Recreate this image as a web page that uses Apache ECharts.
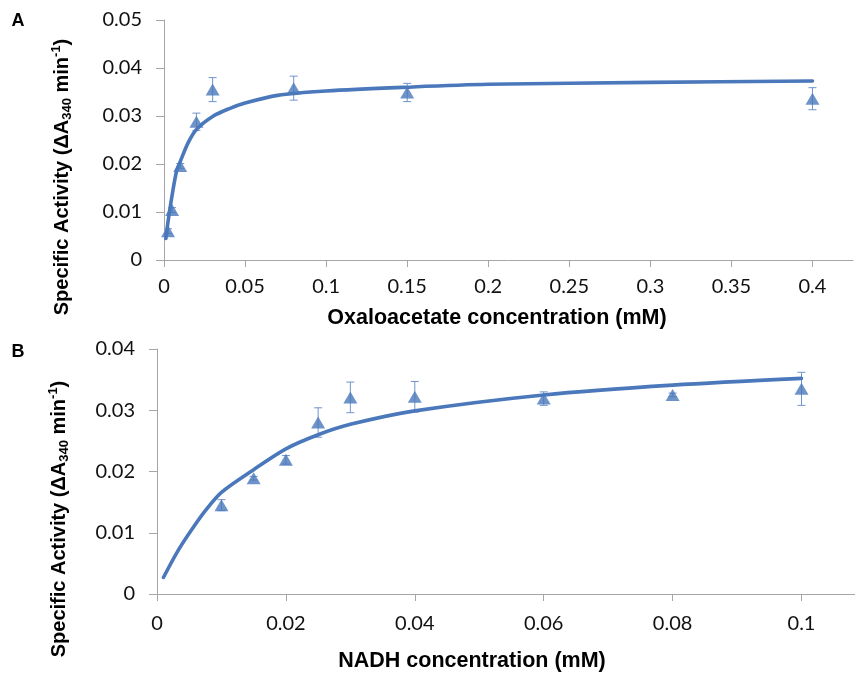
<!DOCTYPE html>
<html>
<head>
<meta charset="utf-8">
<style>
  html, body { margin: 0; padding: 0; background: #fff; }
  #chart { width: 855px; height: 676px; }
</style>
<script src="https://cdn.jsdelivr.net/npm/echarts@6/dist/echarts.min.js"></script>
</head>
<body>
<div id="chart"></div>
<script>
// Panel A: oxaloacetate
const oaaConc = [0.0025, 0.005, 0.01, 0.02, 0.03, 0.08, 0.15, 0.4]
const oaaActivity = [0.006, 0.0104, 0.0196, 0.0288, 0.0355, 0.0358, 0.0349, 0.0336]
const oaaSd = [0.0005, 0.0005, 0.0005, 0.0018, 0.0025, 0.0025, 0.0019, 0.0023]
// fitted curve
const oaaFitX = [0.0012, 0.0025, 0.005, 0.0078, 0.01, 0.015, 0.02, 0.03, 0.04, 0.05, 0.07, 0.1, 0.15, 0.2, 0.3, 0.4]
const oaaFitY = [0.0045, 0.008, 0.0135, 0.0186, 0.0205, 0.0245, 0.0272, 0.0299, 0.0315, 0.0327, 0.0343, 0.0352, 0.036, 0.0366, 0.037, 0.0373]

// Panel B: NADH
const nadhConc = [0.01, 0.015, 0.02, 0.025, 0.03, 0.04, 0.06, 0.08, 0.1]
const nadhActivity = [0.0145, 0.0189, 0.0219, 0.028, 0.0321, 0.0322, 0.0319, 0.0325, 0.0335]
const nadhSd = [0.0009, 0.0003, 0.0007, 0.0024, 0.0025, 0.0025, 0.0011, 0.0003, 0.0027]
const nadhFitX = [0.001, 0.003, 0.005, 0.0075, 0.01, 0.015, 0.02, 0.025, 0.03, 0.04, 0.06, 0.08, 0.1]
const nadhFitY = [0.0027, 0.0066, 0.0099, 0.0136, 0.0166, 0.0203, 0.0237, 0.026, 0.0277, 0.0299, 0.0325, 0.0341, 0.0352]

const blue = '#4a78bb'
const errBlue = '#6f93cc'
const axisGray = '#a6a6a6'
const labelFont = 'Lato, "Open Sans", sans-serif'
const titleFont = '"Liberation Sans", Arial, sans-serif'

const zip = (xs, ys) => xs.map((x, i) => [x, ys[i]])

const errorBars = (params, api) => {
  const x = api.value(0)
  const lo = api.coord([x, api.value(1)])
  const hi = api.coord([x, api.value(2)])
  const cap = 4
  const style = { stroke: errBlue, lineWidth: 1 }
  return {
    type: 'group',
    children: [
      { type: 'line', shape: { x1: hi[0], y1: hi[1], x2: lo[0], y2: lo[1] }, style },
      { type: 'line', shape: { x1: hi[0] - cap, y1: hi[1], x2: hi[0] + cap, y2: hi[1] }, style },
      { type: 'line', shape: { x1: lo[0] - cap, y1: lo[1], x2: lo[0] + cap, y2: lo[1] }, style },
    ],
  }
}

const xAxisBase = {
  type: 'value',
  splitLine: { show: false },
  axisLine: { lineStyle: { color: axisGray, width: 1 } },
  axisTick: { length: 7, lineStyle: { color: axisGray } },
  axisLabel: { color: '#111', fontFamily: labelFont, fontSize: 20, showMaxLabel: false },
}
const yAxisBase = {
  type: 'value',
  min: 0,
  interval: 0.01,
  splitLine: { show: false },
  axisLine: { show: true, lineStyle: { color: axisGray, width: 1 } },
  axisTick: { show: true, length: 8, lineStyle: { color: axisGray } },
  axisLabel: { color: '#111', fontFamily: labelFont, fontSize: 20, margin: 22 },
}

const yTitleRich = {
  sub: { fontFamily: titleFont, fontWeight: 'bold', fontSize: 13, lineHeight: 13, verticalAlign: 'bottom' },
  sup: { fontFamily: titleFont, fontWeight: 'bold', fontSize: 13, lineHeight: 13, verticalAlign: 'top' },
}
const yTitleText = 'Specific Activity (ΔA{sub|340} min{sup|-1})'

const textEl = (text, x, y, size, rotation) => ({
  type: 'text',
  x: x,
  y: y,
  rotation: rotation || 0,
  style: {
    text: text,
    fill: '#000',
    font: 'bold ' + size + 'px ' + titleFont,
    align: 'center',
    verticalAlign: 'middle',
    lineHeight: 24,
    rich: yTitleRich,
  },
})

const chart = echarts.init(document.getElementById('chart'))

chart.setOption({
  backgroundColor: '#fff',
  animation: false,
  grid: [
    { left: 164, top: 20, width: 689, height: 240 },
    { left: 157, top: 349, width: 698, height: 245 },
  ],
  xAxis: [
    Object.assign({}, xAxisBase, {
      gridIndex: 0, min: 0, max: 0.425, interval: 0.05,
      axisLabel: Object.assign({}, xAxisBase.axisLabel, { margin: 17 }),
    }),
    Object.assign({}, xAxisBase, {
      gridIndex: 1, min: 0, max: 0.1083, interval: 0.02,
      axisLabel: Object.assign({}, xAxisBase.axisLabel, { margin: 20 }),
    }),
  ],
  yAxis: [
    Object.assign({}, yAxisBase, { gridIndex: 0, max: 0.05 }),
    Object.assign({}, yAxisBase, { gridIndex: 1, max: 0.04 }),
  ],
  graphic: [
    textEl('A', 18, 21, 18),
    textEl('B', 18, 352, 18),
    textEl('Oxaloacetate concentration (mM)', 497, 318, 21.5),
    textEl('NADH concentration (mM)', 472, 661, 21.5),
    textEl(yTitleText, 62, 177, 20, Math.PI / 2),
    textEl(yTitleText, 59, 519, 20, Math.PI / 2),
  ],
  series: [
    {
      type: 'custom',
      xAxisIndex: 0, yAxisIndex: 0,
      renderItem: errorBars,
      data: oaaConc.map((x, i) => [x, oaaActivity[i] - oaaSd[i], oaaActivity[i] + oaaSd[i]]),
      z: 1,
    },
    {
      type: 'line',
      xAxisIndex: 0, yAxisIndex: 0,
      data: zip(oaaFitX, oaaFitY),
      smooth: 0.3,
      symbol: 'none',
      lineStyle: { color: blue, width: 3.6, cap: 'round' },
      z: 2,
    },
    {
      type: 'scatter',
      xAxisIndex: 0, yAxisIndex: 0,
      data: zip(oaaConc, oaaActivity),
      symbol: 'triangle',
      symbolSize: [14, 12],
      itemStyle: { color: blue },
      z: 3,
    },
    {
      type: 'custom',
      xAxisIndex: 1, yAxisIndex: 1,
      renderItem: errorBars,
      data: nadhConc.map((x, i) => [x, nadhActivity[i] - nadhSd[i], nadhActivity[i] + nadhSd[i]]),
      z: 1,
    },
    {
      type: 'line',
      xAxisIndex: 1, yAxisIndex: 1,
      data: zip(nadhFitX, nadhFitY),
      smooth: 0.3,
      symbol: 'none',
      lineStyle: { color: blue, width: 3.6, cap: 'round' },
      z: 2,
    },
    {
      type: 'scatter',
      xAxisIndex: 1, yAxisIndex: 1,
      data: zip(nadhConc, nadhActivity),
      symbol: 'triangle',
      symbolSize: [14, 12],
      itemStyle: { color: blue },
      z: 3,
    },
  ],
})
</script>
</body>
</html>
